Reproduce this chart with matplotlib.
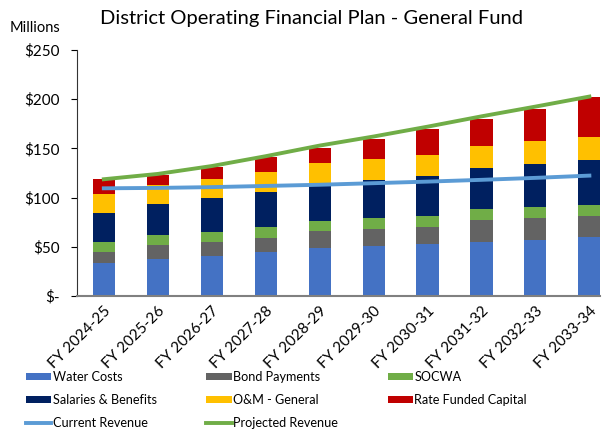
import numpy as np
from matplotlib import pyplot as plt

plt.rcParams['font.family'] = ['Lato', 'DejaVu Sans']

# fiscal years
years = ['FY 2024-25', 'FY 2025-26', 'FY 2026-27', 'FY 2027-28', 'FY 2028-29',
         'FY 2029-30', 'FY 2030-31', 'FY 2031-32', 'FY 2032-33', 'FY 2033-34']

# expense components, $ millions
water_costs = [33.8, 37.3, 40.6, 45.0, 48.8, 51.2, 53.2, 54.9, 56.9, 59.6]
bond_payments = [10.9, 14.2, 14.6, 14.3, 16.9, 17.2, 17.3, 22.7, 22.7, 22.0]
socwa = [9.8, 10.2, 10.2, 10.8, 10.5, 10.9, 10.8, 10.5, 10.8, 11.2]
salaries = [29.5, 31.8, 34.2, 35.6, 36.3, 38.6, 40.7, 41.9, 43.7, 45.4]
om_general = [19.7, 19.0, 19.6, 20.3, 22.3, 21.0, 21.6, 22.4, 23.1, 23.1]
rate_capital = [14.9, 10.5, 11.6, 15.0, 15.6, 21.0, 26.4, 27.8, 33.2, 40.6]

# revenue lines, $ millions
current_revenue = [109.4, 109.8, 110.6, 111.8, 113.0, 114.6, 116.2, 118.0, 120.0, 122.3]
projected_revenue = [118.6, 124.0, 132.0, 142.0, 152.8, 162.0, 172.0, 182.5, 192.4, 202.6]

fig = plt.figure(figsize=(6.05, 4.34), dpi=100)
ax = fig.add_axes([0.127, 0.318, 0.865, 0.567])

x = np.arange(len(years))
w = 0.41
stacks = [(water_costs, 'Water Costs', '#4472C4'),
          (bond_payments, 'Bond Payments', '#636363'),
          (socwa, 'SOCWA', '#70AD47'),
          (salaries, 'Salaries & Benefits', '#002060'),
          (om_general, 'O&M - General', '#FFC000'),
          (rate_capital, 'Rate Funded Capital', '#C00000')]

bottom = np.zeros(len(years))
handles = {}
for vals, name, col in stacks:
    b = ax.bar(x, vals, w, bottom=bottom, color=col, label=name, zorder=2)
    handles[name] = b
    bottom = bottom + np.array(vals)

l1, = ax.plot(x, current_revenue, color='#5B9BD5', lw=2.8, label='Current Revenue', zorder=3)
l2, = ax.plot(x, projected_revenue, color='#70AD47', lw=2.8, label='Projected Revenue', zorder=3)
handles['Current Revenue'] = l1
handles['Projected Revenue'] = l2

ax.set_xlim(-0.5, 9.2)
ax.set_ylim(0, 250)
ax.set_yticks([0, 50, 100, 150, 200, 250])
ax.set_yticklabels(['$-', '$50', '$100', '$150', '$200', '$250'], fontsize=11)
ax.set_xticks(x)
ax.set_xticklabels(years, rotation=45, ha='right', rotation_mode='anchor', fontsize=11)
ax.tick_params(axis='x', length=0, pad=6)
ax.tick_params(axis='y', length=4, direction='out', pad=8)

for s in ['top', 'right']:
    ax.spines[s].set_visible(False)
ax.spines['left'].set_color('#333333')
ax.spines['bottom'].set_color('#808080')
ax.spines['bottom'].set_linewidth(1.5)

fig.text(0.515, 0.958, 'District Operating Financial Plan - General Fund',
         ha='center', va='center', fontsize=14.5)
fig.text(0.058, 0.935, 'Millions', ha='center', va='center', fontsize=10.5)

order = ['Water Costs', 'Salaries & Benefits', 'Current Revenue',
         'Bond Payments', 'O&M - General', 'Projected Revenue',
         'SOCWA', 'Rate Funded Capital']
leg = fig.legend([handles[k] for k in order], order, ncol=3,
                 loc='center', bbox_to_anchor=(0.457, 0.078),
                 frameon=False, fontsize=9.1, handlelength=2.0, handleheight=0.5,
                 handletextpad=0.1, labelspacing=0.88, columnspacing=3.95,
                 borderaxespad=0.0)

fig.savefig('out.png', dpi=100)
